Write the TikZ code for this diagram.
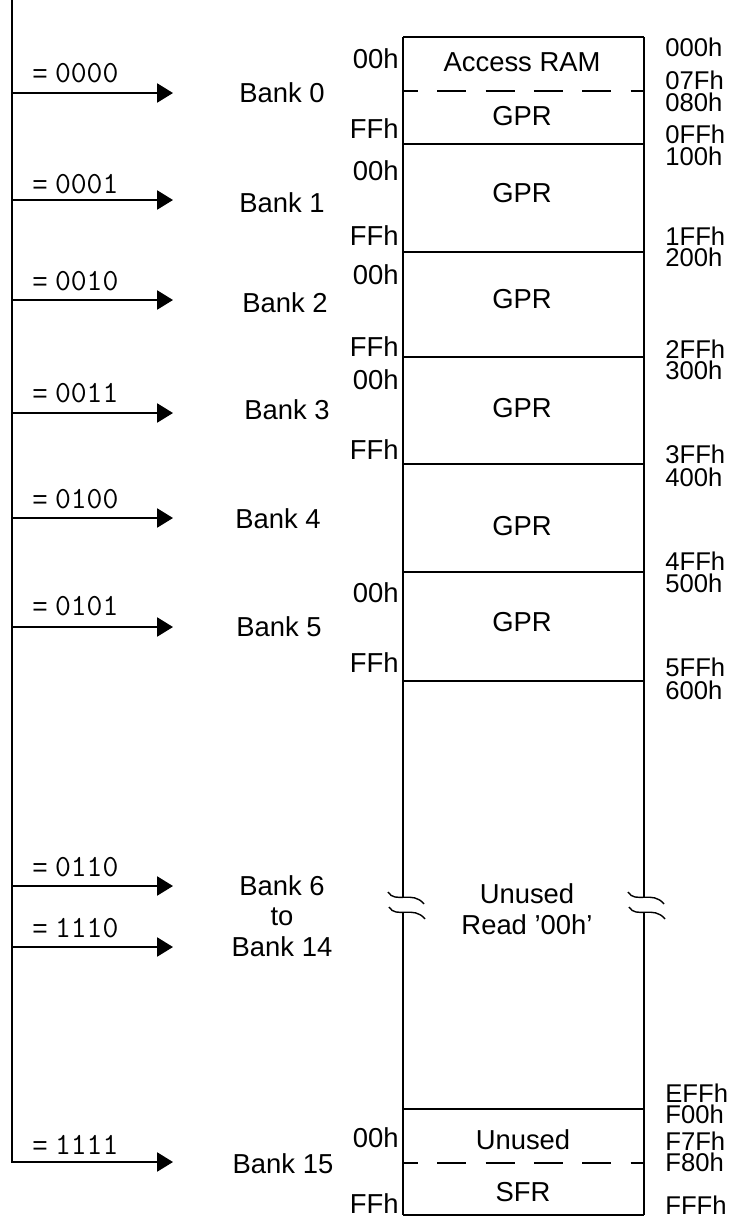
\documentclass[tikz,border=0pt]{standalone}
\usepackage{fontspec}
\setmainfont{Liberation Sans}
\usetikzlibrary{arrows.meta}

\begin{document}
\begin{tikzpicture}[x=0.02cm,y=-0.02cm,>={Triangle[length=9pt,width=10.8pt]},
  txt/.style={inner sep=0pt,font=\fontsize{15.6}{17.5}\selectfont},
  sel/.style={inner sep=0pt,anchor=west,font=\fontsize{15}{17}\selectfont},
  lo/.style={txt,anchor=east},
  hi/.style={inner sep=0pt,anchor=west,font=\fontsize{14.6}{16}\selectfont},
  wire/.style={line width=1.1pt},
  cell/.style={line width=0.8pt},
  splitline/.style={cell,dash pattern=on 16.5pt off 11pt,dash phase=8pt}]
\useasboundingbox (0,0) rectangle (729,1221);

\coordinate (top) at (12,0);
\coordinate (t0) at (173,93);
\coordinate (t1) at (173,200);
\coordinate (t2) at (173,300);
\coordinate (t3) at (173,413);
\coordinate (t4) at (173,518);
\coordinate (t5) at (173,627);
\coordinate (t6) at (173,886);
\coordinate (t14) at (173,947);
\coordinate (t15) at (173,1162);

\draw[wire,->] (top) |- (t15);
\draw[wire,->] (top |- t0) -- (t0);
\draw[wire,->] (top |- t1) -- (t1);
\draw[wire,->] (top |- t2) -- (t2);
\draw[wire,->] (top |- t3) -- (t3);
\draw[wire,->] (top |- t4) -- (t4);
\draw[wire,->] (top |- t5) -- (t5);
\draw[wire,->] (top |- t6) -- (t6);
\draw[wire,->] (top |- t14) -- (t14);

\node[sel] (s0) at (32,73) {= {\fontsize{17.5}{18}\ttfamily 0000}};
\node[sel] (s1) at (32,184) {= {\fontsize{17.5}{18}\ttfamily 0001}};
\node[sel] (s2) at (32,281) {= {\fontsize{17.5}{18}\ttfamily 0010}};
\node[sel] (s3) at (32,393) {= {\fontsize{17.5}{18}\ttfamily 0011}};
\node[sel] (s4) at (32,499) {= {\fontsize{17.5}{18}\ttfamily 0100}};
\node[sel] (s5) at (32,606) {= {\fontsize{17.5}{18}\ttfamily 0101}};
\node[sel] (s6) at (32,867) {= {\fontsize{17.5}{18}\ttfamily 0110}};
\node[sel] (s14) at (32,928) {= {\fontsize{17.5}{18}\ttfamily 1110}};
\node[sel] (s15) at (32,1145) {= {\fontsize{17.5}{18}\ttfamily 1111}};

\node[txt] (b0) at (282,93) {Bank 0};
\node[txt] (b1) at (282,203) {Bank 1};
\node[txt] (b2) at (285,303) {Bank 2};
\node[txt] (b3) at (287,410) {Bank 3};
\node[txt] (b4) at (278,519) {Bank 4};
\node[txt] (b5) at (279,627) {Bank 5};
\node[txt,align=center] (b6) at (282,916) {Bank 6\\to\\Bank 14};
\node[txt] (b15) at (283,1164) {Bank 15};

% memory map
\draw[cell] (403,37) -- (644,37);
\draw[cell] (403,1215) -- (644,1215);
\draw[cell] (403,37) -- (403,897) (403,912) -- (403,1215);
\draw[cell] (644,37) -- (644,897) (644,912) -- (644,1215);
\draw[splitline] (403,91) -- (644,91);
\draw[cell] (403,144) -- (644,144);
\draw[cell] (403,252) -- (644,252);
\draw[cell] (403,357) -- (644,357);
\draw[cell] (403,464) -- (644,464);
\draw[cell] (403,572) -- (644,572);
\draw[cell] (403,681) -- (644,681);
\draw[cell] (403,1109) -- (644,1109);
\draw[splitline] (403,1163) -- (644,1163);

\draw[cell] (388,892) .. controls (395,904) and (413,890) .. (424,904);
\draw[cell] (389,907) .. controls (396,919) and (414,905) .. (425,919);
\draw[cell] (628,892) .. controls (635,904) and (653,890) .. (664,904);
\draw[cell] (629,907) .. controls (636,919) and (654,905) .. (665,919);

\node[txt] (acc) at (522,62) {Access RAM};
\node[txt] (g0) at (522,116) {GPR};
\node[txt] (g1) at (522,193) {GPR};
\node[txt] (g2) at (522,299) {GPR};
\node[txt] (g3) at (522,408) {GPR};
\node[txt] (g4) at (522,526) {GPR};
\node[txt] (g5) at (522,622) {GPR};
\node[txt,align=center] (rd) at (527,909) {Unused\\Read '00h'};
\node[txt] (un) at (523,1140) {Unused};
\node[txt] (sfr) at (523,1192) {SFR};

\node[lo] (l0a) at (399,59) {00h};
\node[lo] (l0b) at (399,129) {FFh};
\node[lo] (l1a) at (399,171) {00h};
\node[lo] (l1b) at (399,236) {FFh};
\node[lo] (l2a) at (399,275) {00h};
\node[lo] (l2b) at (399,347) {FFh};
\node[lo] (l3a) at (399,380) {00h};
\node[lo] (l3b) at (399,450) {FFh};
\node[lo] (l5a) at (399,593) {00h};
\node[lo] (l5b) at (399,663) {FFh};
\node[lo] (l15a) at (399,1138) {00h};
\node[lo] (l15b) at (399,1204) {FFh};

\node[hi] (h000) at (665,47) {000h};
\node[hi] (h07F) at (665,80) {07Fh};
\node[hi] (h080) at (665,102) {080h};
\node[hi] (h0FF) at (665,134) {0FFh};
\node[hi] (h100) at (665,156) {100h};
\node[hi] (h1FF) at (665,236) {1FFh};
\node[hi] (h200) at (665,257) {200h};
\node[hi] (h2FF) at (665,349) {2FFh};
\node[hi] (h300) at (665,370) {300h};
\node[hi] (h3FF) at (665,454) {3FFh};
\node[hi] (h400) at (665,477) {400h};
\node[hi] (h4FF) at (665,561) {4FFh};
\node[hi] (h500) at (665,583) {500h};
\node[hi] (h5FF) at (665,667) {5FFh};
\node[hi] (h600) at (665,690) {600h};
\node[hi] (hEFF) at (665,1093) {EFFh};
\node[hi] (hF00) at (665,1114) {F00h};
\node[hi] (hF7F) at (665,1141) {F7Fh};
\node[hi] (hF80) at (665,1162) {F80h};
\node[hi] (hFFF) at (665,1205) {FFFh};
\end{tikzpicture}
\end{document}
